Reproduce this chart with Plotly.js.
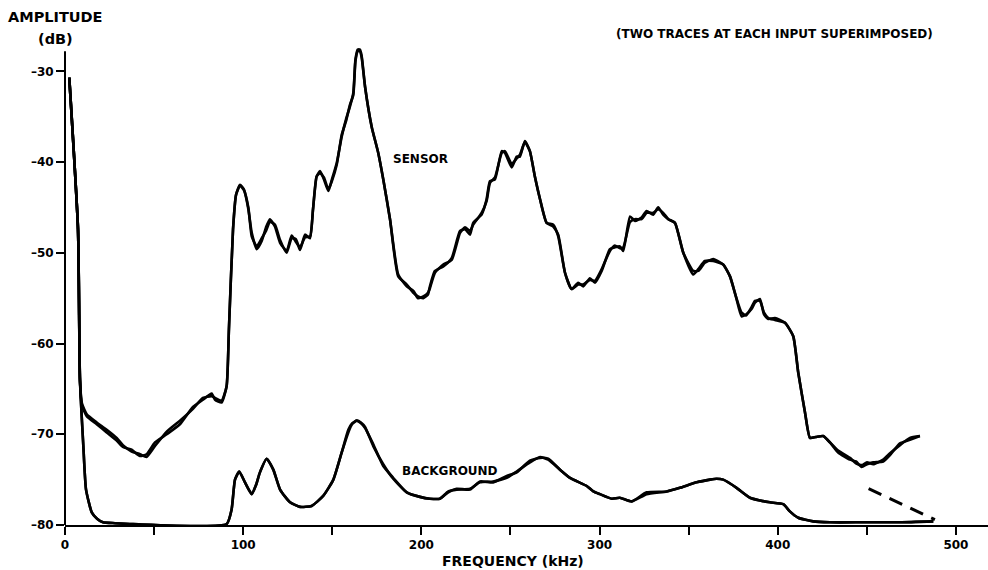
<!DOCTYPE html>
<html>
<head>
<meta charset="utf-8">
<script src="https://cdn.plot.ly/plotly-3.0.1.min.js"></script>
<style>
html,body{margin:0;padding:0;background:#fff;}
#chart{width:988px;height:570px;}
</style>
</head>
<body>
<div id="chart"></div>
<script>
// ---- data (kHz, dB) ----
var sensorFreq = [2.4,7.3,8.4,9.5,12.2,17.8,23.4,29.0,32.5,37.4,42.1,45.8,50.5,57.1,64.5,71.8,77.4,82.3,84.2,87.9,90.7,92.0,94.3,96.0,98.2,100.4,102.9,104.8,107.6,110.4,112.8,115.0,117.8,120.7,124.4,127.2,129.6,131.9,134.7,137.5,139.2,141.2,143.1,145.3,147.8,149.8,152.5,155.3,157.7,159.9,161.8,163.0,164.3,165.5,166.5,168.4,172.1,175.8,178.6,182.4,187.0,191.8,195.5,198.1,201.1,203.7,204.8,207.6,212.3,217.0,221.7,224.5,227.3,229.1,233.8,236.6,238.5,241.3,245.1,246.9,250.7,253.5,255.3,258.1,260.9,263.7,266.6,270.3,274.0,276.8,280.6,284.3,288.0,290.8,294.6,297.4,301.2,305.8,308.6,311.4,313.3,317.1,319.9,323.6,326.4,330.1,332.9,335.7,338.6,342.3,347.0,352.6,355.4,359.1,363.8,369.4,373.2,376.5,379.7,382.2,385.3,387.2,390.0,392.3,394.7,398.4,404.0,408.7,411.5,415.3,418.1,421.4,425.5,429.3,433.9,440.5,443.9,447.1,450.1,453.6,459.2,463.0,468.6,474.2,479.8];
var sensorTrace1 = [-30.7,-47.4,-64.0,-66.8,-68.0,-68.9,-69.8,-70.7,-71.4,-71.7,-72.4,-72.2,-70.9,-70.0,-68.9,-67.0,-66.2,-65.5,-66.2,-66.5,-64.7,-58.4,-47.4,-43.6,-42.5,-43.0,-45.2,-47.8,-49.6,-48.7,-47.2,-46.3,-47.1,-48.9,-49.8,-48.1,-48.8,-49.4,-48.3,-48.2,-45.2,-41.6,-41.0,-41.9,-43.2,-41.9,-40.1,-37.2,-35.3,-33.9,-32.4,-28.7,-27.6,-27.6,-28.3,-31.7,-36.1,-39.0,-41.9,-46.3,-52.6,-53.5,-54.4,-54.8,-55.0,-54.6,-53.7,-52.0,-51.5,-50.6,-47.6,-47.4,-48.0,-46.7,-45.8,-44.1,-42.1,-41.9,-38.8,-39.0,-40.6,-39.4,-39.4,-37.7,-38.8,-41.6,-44.1,-46.7,-46.9,-48.2,-52.2,-54.0,-53.3,-53.7,-52.8,-53.3,-52.0,-49.6,-49.4,-49.3,-49.8,-46.0,-46.5,-46.1,-45.4,-45.8,-45.0,-45.8,-46.3,-46.7,-50.0,-52.4,-51.8,-50.9,-50.9,-51.3,-52.6,-54.8,-57.0,-56.8,-56.2,-55.5,-55.1,-56.8,-57.3,-57.2,-57.7,-59.2,-63.2,-67.6,-70.4,-70.3,-70.2,-70.9,-72.0,-72.8,-73.0,-73.6,-73.3,-73.1,-73.0,-72.3,-71.0,-70.6,-70.2];
var sensorTrace2 = [-30.7,-47.4,-64.0,-66.6,-67.8,-68.7,-69.5,-70.4,-71.2,-71.9,-72.2,-72.5,-71.3,-69.7,-68.5,-67.2,-66.0,-65.8,-66.0,-66.3,-64.7,-58.4,-47.4,-43.6,-42.6,-43.1,-45.0,-48.2,-49.3,-48.4,-47.6,-46.6,-46.9,-48.6,-50.0,-48.4,-48.5,-49.7,-48.0,-48.4,-45.2,-41.6,-41.2,-41.7,-43.0,-42.1,-40.3,-37.0,-35.5,-33.7,-32.6,-28.9,-27.8,-27.8,-28.5,-31.7,-36.1,-39.0,-41.9,-46.3,-52.4,-53.7,-54.2,-55.0,-54.8,-54.4,-53.9,-52.2,-51.3,-50.8,-47.8,-47.2,-47.6,-46.9,-45.6,-44.3,-42.3,-41.7,-39.0,-38.8,-40.2,-39.6,-39.2,-37.8,-38.8,-41.6,-44.1,-46.7,-47.1,-48.0,-52.2,-54.0,-53.5,-53.5,-53.0,-53.1,-51.8,-49.8,-49.2,-49.5,-49.4,-46.6,-46.3,-46.3,-45.6,-45.6,-45.2,-45.6,-46.3,-46.7,-50.0,-52.0,-52.0,-51.1,-50.7,-51.3,-52.6,-54.8,-56.6,-56.9,-56.0,-55.3,-55.3,-56.6,-57.2,-57.4,-57.7,-59.2,-63.2,-67.6,-70.4,-70.3,-70.2,-70.9,-71.8,-72.6,-73.2,-73.4,-73.1,-73.3,-72.8,-72.1,-71.2,-70.4,-70.2];

var backgroundFreq = [2.4,7.3,8.4,10.3,11.8,15.0,18.0,21.3,28.1,38.2,90.7,93.5,95.4,97.8,101.0,104.8,107.2,109.4,113.2,116.9,120.7,126.3,131.9,138.4,144.9,150.6,155.3,159.0,161.1,163.7,166.1,168.4,173.0,178.6,184.2,191.8,199.2,204.8,210.4,215.1,219.8,227.3,232.9,240.3,247.9,253.5,260.9,266.6,271.2,277.8,283.4,292.8,296.5,300.2,306.8,311.4,318.0,326.4,337.7,345.1,354.5,362.0,365.7,369.4,376.9,384.4,390.0,395.6,403.1,406.8,411.5,419.9,429.3,448.0,468.6,487.3];
var backgroundTrace1 = [-30.7,-47.4,-64.0,-71.3,-76.1,-78.6,-79.3,-79.7,-79.8,-79.9,-79.9,-78.3,-75.0,-74.1,-75.3,-76.6,-75.6,-74.2,-72.7,-73.9,-76.1,-77.5,-78.0,-77.9,-76.8,-75.0,-72.0,-69.5,-68.8,-68.5,-68.8,-69.3,-71.1,-73.5,-74.8,-76.4,-76.9,-77.1,-77.1,-76.3,-76.1,-76.0,-75.3,-75.2,-74.8,-74.1,-73.1,-72.5,-72.8,-73.9,-74.8,-75.7,-76.3,-76.6,-77.1,-77.0,-77.4,-76.6,-76.3,-75.9,-75.3,-75.0,-74.9,-75.0,-75.9,-77.0,-77.3,-77.5,-77.7,-78.5,-79.2,-79.6,-79.7,-79.7,-79.7,-79.6];
var backgroundTrace2 = [-30.7,-47.4,-64.0,-71.3,-76.1,-78.6,-79.3,-79.7,-79.8,-79.9,-79.9,-78.3,-75.0,-74.1,-75.3,-76.6,-75.6,-74.2,-72.7,-73.9,-76.1,-77.5,-78.0,-77.9,-76.8,-75.0,-72.0,-69.8,-68.9,-68.5,-68.7,-69.2,-71.3,-73.3,-74.9,-76.4,-76.9,-77.1,-77.1,-76.4,-76.0,-76.1,-75.2,-75.3,-74.6,-74.2,-72.9,-72.6,-72.7,-73.9,-74.8,-75.7,-76.3,-76.6,-77.1,-77.0,-77.4,-76.4,-76.3,-75.9,-75.3,-75.0,-74.9,-75.0,-75.9,-77.0,-77.3,-77.5,-77.7,-78.5,-79.2,-79.6,-79.7,-79.7,-79.7,-79.6];

var extrapFreq = [451.0, 488.2];
var extrapDb = [-76.0, -79.4];

var xTickVals = [0,50,100,150,200,250,300,350,400,450,500];
var xTickText = ['0','','100','','200','','300','','400','','500'];
var yTickVals = [-30,-40,-50,-60,-70,-80];
var yTickText = ['\u201330','\u201340','\u201350','\u201360','\u201370','\u201380'];

var FONT = 'DejaVu Sans, Verdana, sans-serif';
function curve(x, y){
  return {x:x, y:y, type:'scatter', mode:'lines',
    line:{color:'#000', width:2.6, shape:'spline', smoothing:0.5},
    hoverinfo:'skip', showlegend:false};
}
var traces = [
  curve(sensorFreq, sensorTrace1),
  curve(sensorFreq, sensorTrace2),
  curve(backgroundFreq, backgroundTrace1),
  curve(backgroundFreq, backgroundTrace2),
  {x:extrapFreq, y:extrapDb, type:'scatter', mode:'lines',
   line:{color:'#000', width:3, dash:'14px,9px'}, hoverinfo:'skip', showlegend:false}
];

var layout = {
  width:988, height:570,
  margin:{l:65, r:0, t:35, b:45, pad:0},
  paper_bgcolor:'#fff', plot_bgcolor:'#fff',
  showlegend:false,
  font:{family:FONT, color:'#000'},
  xaxis:{range:[0,518], showgrid:false, zeroline:false, showline:true,
    linecolor:'#000', linewidth:2, ticks:'outside', ticklen:8, tickwidth:2, tickcolor:'#000',
    tickvals:xTickVals, ticktext:xTickText,
    tickfont:{family:FONT, size:12, color:'#000', weight:'bold'}},
  yaxis:{range:[-80,-26], showgrid:false, zeroline:false, showline:false,
    ticks:'outside', ticklen:8, tickwidth:2, tickcolor:'#000',
    tickvals:yTickVals, ticktext:yTickText,
    tickfont:{family:FONT, size:12, color:'#000', weight:'bold'}},
  shapes:[
    {type:'line', xref:'paper', yref:'y', x0:0, x1:0, y0:-80, y1:-27.8,
     line:{color:'#000', width:2}}
  ],
  annotations:[
    {text:'AMPLITUDE', xref:'paper', yref:'paper', x:-0.01, y:1.0, xanchor:'center', yanchor:'middle',
     showarrow:false, font:{family:FONT, size:14.5, weight:'bold'}, yshift:18},
    {text:'(dB)', xref:'paper', yref:'paper', x:-0.01, y:1.0, xanchor:'center', yanchor:'middle',
     showarrow:false, font:{family:FONT, size:14.5, weight:'bold'}, yshift:-4},
    {text:'(TWO TRACES AT EACH INPUT SUPERIMPOSED)', xref:'paper', yref:'paper', x:0.769, y:1.0,
     xanchor:'center', yanchor:'middle', showarrow:false, yshift:1,
     font:{family:FONT, size:12, weight:'bold'}},
    {text:'FREQUENCY (kHz)', xref:'paper', yref:'paper', x:0.485, y:0,
     xanchor:'center', yanchor:'middle', showarrow:false, yshift:-36,
     font:{family:FONT, size:14, weight:'bold'}},
    {text:'SENSOR', xref:'x', yref:'y', x:199.3, y:-39.7, xanchor:'center', yanchor:'middle',
     showarrow:false, font:{family:FONT, size:12, weight:'bold'}},
    {text:'BACKGROUND', xref:'x', yref:'y', x:216.3, y:-74.0, xanchor:'center', yanchor:'middle',
     showarrow:false, font:{family:FONT, size:12, weight:'bold'}}
  ]
};
Plotly.newPlot('chart', traces, layout, {displayModeBar:false, staticPlot:true});
</script>
</body>
</html>
